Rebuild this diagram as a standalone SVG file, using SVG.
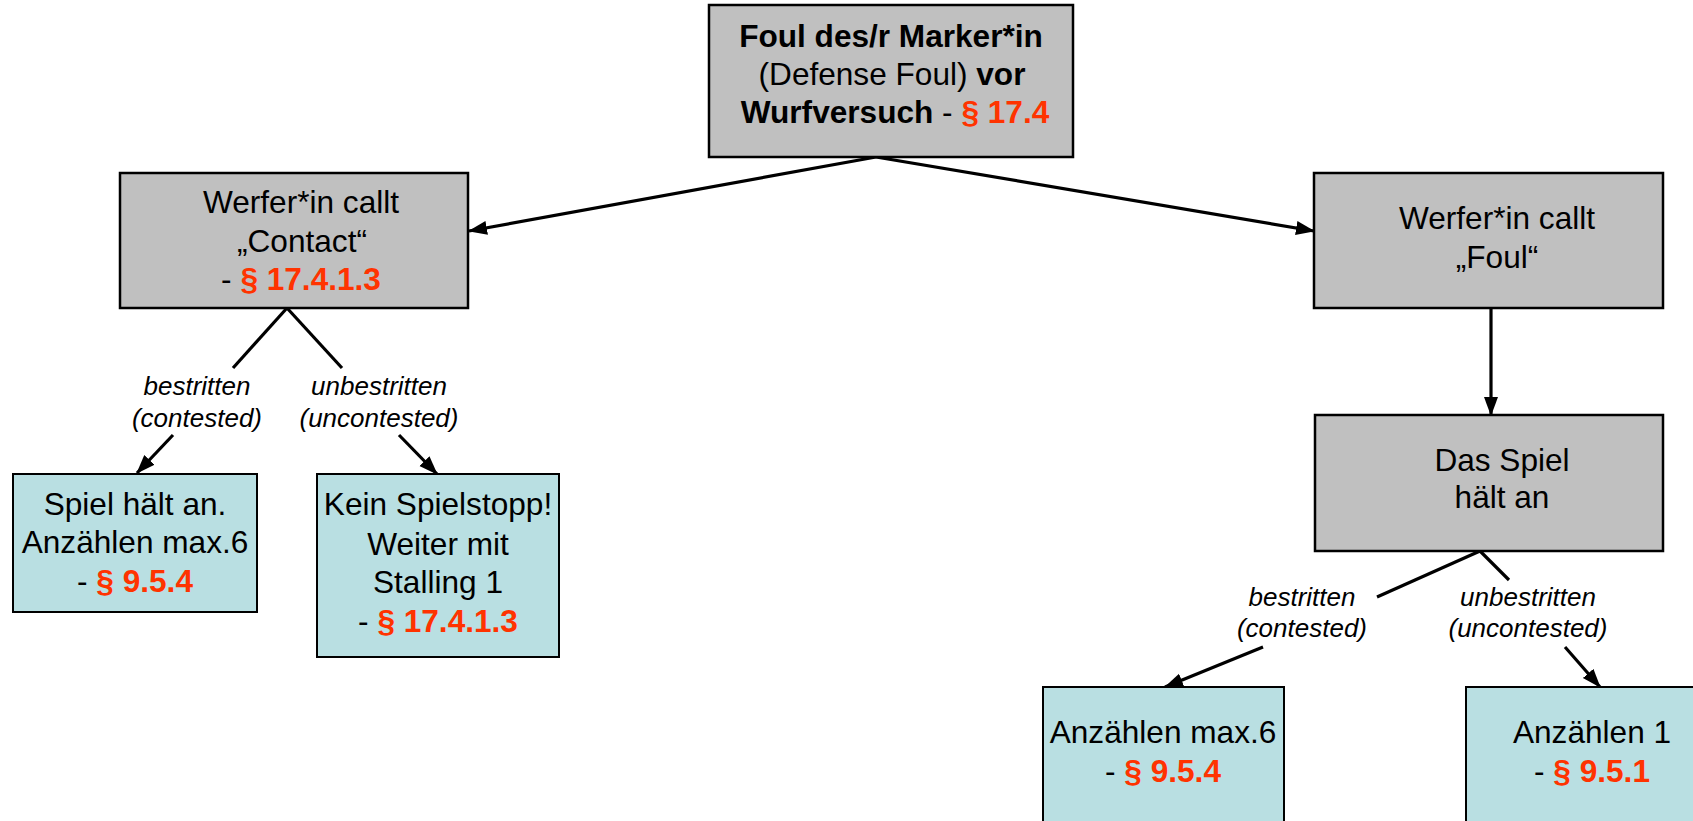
<svg xmlns="http://www.w3.org/2000/svg" width="1693" height="821" viewBox="0 0 1693 821">
<style>
.grey{fill:#C0C0C0;stroke:#000;stroke-width:2.5}
.blue{fill:#B9DFE2;stroke:#000;stroke-width:2}
text{font-family:"Liberation Sans",Arial,sans-serif;font-size:31.6px;fill:#000;text-anchor:middle}
.b{font-weight:bold}
.r{fill:#FF3300;font-weight:bold}
text.lbl{font-size:26px;font-style:italic}
.c{stroke:#000;stroke-width:3.2;fill:none}
</style>
<defs>
<marker id="ah" markerUnits="userSpaceOnUse" markerWidth="20" markerHeight="16" refX="18" refY="7" orient="auto">
<path d="M0,0 L19,7 L0,14 z" fill="#000"/>
</marker>
</defs>
<rect width="1693" height="821" fill="#fff"/>
<g id="connectors">
<line class="c" x1="876" y1="157" x2="469" y2="231" marker-end="url(#ah)"/>
<line class="c" x1="876" y1="157" x2="1314" y2="231" marker-end="url(#ah)"/>
<line class="c" x1="1491" y1="308" x2="1491" y2="415" marker-end="url(#ah)"/>
<line class="c" x1="287" y1="308" x2="233" y2="368"/>
<line class="c" x1="173" y1="435" x2="137" y2="473" marker-end="url(#ah)"/>
<line class="c" x1="287" y1="308" x2="342" y2="368"/>
<line class="c" x1="399" y1="435" x2="437" y2="474" marker-end="url(#ah)"/>
<line class="c" x1="1480" y1="551" x2="1377" y2="597"/>
<line class="c" x1="1263" y1="647" x2="1165" y2="687" marker-end="url(#ah)"/>
<line class="c" x1="1480" y1="551" x2="1509" y2="580"/>
<line class="c" x1="1565" y1="647" x2="1600" y2="687" marker-end="url(#ah)"/>
<text class="lbl" x="197" y="395">bestritten</text>
<text class="lbl" x="197" y="427">(contested)</text>
<text class="lbl" x="379" y="395">unbestritten</text>
<text class="lbl" x="379" y="427">(uncontested)</text>
<text class="lbl" x="1302" y="606">bestritten</text>
<text class="lbl" x="1302" y="637">(contested)</text>
<text class="lbl" x="1528" y="606">unbestritten</text>
<text class="lbl" x="1528" y="637">(uncontested)</text>
</g>
<g id="root">
<rect class="grey" x="709" y="5" width="364" height="152"/>
<text x="891" y="47" class="b">Foul des/r Marker*in</text>
<text x="892" y="85">(Defense Foul) <tspan class="b">vor</tspan></text>
<text x="895" y="123"><tspan class="b">Wurfversuch</tspan> - <tspan class="r">§ 17.4</tspan></text>
</g>
<g id="contact">
<rect class="grey" x="120" y="173" width="348" height="135"/>
<text x="301" y="213">Werfer*in callt</text>
<text x="302" y="252">„Contact“</text>
<text x="301" y="290">- <tspan class="r">§ 17.4.1.3</tspan></text>
</g>
<g id="foul">
<rect class="grey" x="1314" y="173" width="349" height="135"/>
<text x="1497" y="229">Werfer*in callt</text>
<text x="1497" y="268">„Foul“</text>
</g>
<g id="stop">
<rect class="grey" x="1315" y="415" width="348" height="136"/>
<text x="1502" y="471">Das Spiel</text>
<text x="1502" y="508">hält an</text>
</g>
<g id="contested1">
<rect class="blue" x="13" y="474" width="244" height="138"/>
<text x="135" y="515">Spiel hält an.</text>
<text x="135" y="553">Anzählen max.6</text>
<text x="135" y="592">- <tspan class="r">§ 9.5.4</tspan></text>
</g>
<g id="uncontested1">
<rect class="blue" x="317" y="474" width="242" height="183"/>
<text x="438" y="515">Kein Spielstopp!</text>
<text x="438" y="555">Weiter mit</text>
<text x="438" y="593">Stalling 1</text>
<text x="438" y="632">- <tspan class="r">§ 17.4.1.3</tspan></text>
</g>
<g id="contested2">
<rect class="blue" x="1043" y="687" width="241" height="180"/>
<text x="1163" y="743">Anzählen max.6</text>
<text x="1163" y="782">- <tspan class="r">§ 9.5.4</tspan></text>
</g>
<g id="uncontested2">
<rect class="blue" x="1466" y="687" width="260" height="180"/>
<text x="1592" y="743">Anzählen 1</text>
<text x="1592" y="782">- <tspan class="r">§ 9.5.1</tspan></text>
</g>
</svg>
